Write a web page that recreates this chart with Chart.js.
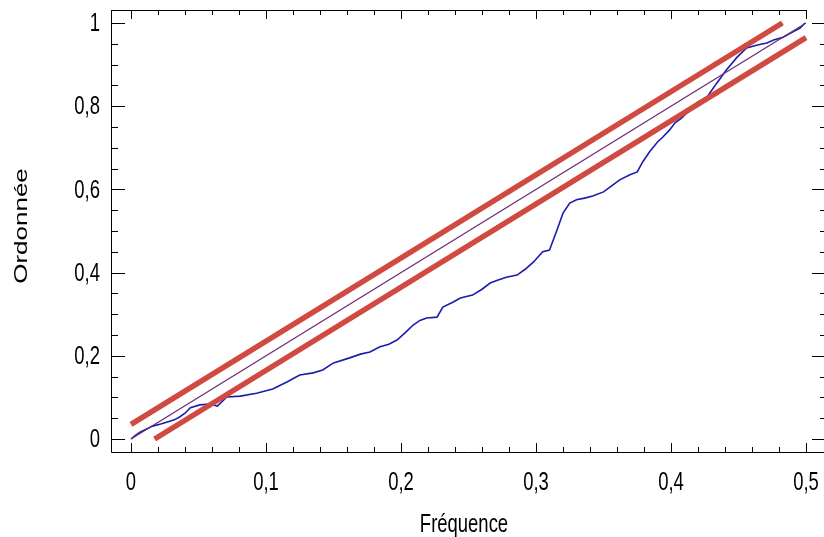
<!DOCTYPE html>
<html>
<head>
<meta charset="utf-8">
<script src="https://cdn.jsdelivr.net/npm/chart.js@4"></script>
<style>
  html, body { margin: 0; padding: 0; background: #fff; }
  #wrap { width: 824px; height: 537px; }
</style>
</head>
<body>
<div id="wrap"><canvas id="chart" width="824" height="537"></canvas></div>
<script>
// cumulative periodogram (blue)
const freq = [0, 0.003, 0.007, 0.012, 0.016, 0.022, 0.027, 0.032, 0.036, 0.040,
  0.044, 0.051, 0.0585, 0.064, 0.071, 0.081, 0.093, 0.105, 0.1155, 0.125,
  0.135, 0.142, 0.150, 0.162, 0.170, 0.177, 0.184, 0.191, 0.197, 0.203,
  0.209, 0.214, 0.219, 0.2267, 0.231, 0.238, 0.244, 0.253, 0.260, 0.266,
  0.272, 0.278, 0.286, 0.292, 0.298, 0.305, 0.310, 0.3155, 0.320, 0.325,
  0.330, 0.336, 0.342, 0.350, 0.355, 0.362, 0.3696, 0.375, 0.379, 0.384,
  0.390, 0.394, 0.399, 0.403, 0.408, 0.414, 0.419, 0.4267, 0.434, 0.441,
  0.449, 0.456, 0.464, 0.471, 0.476, 0.483, 0.490, 0.4956, 0.4993];
const ordo = [0, 0.008, 0.017, 0.025, 0.031, 0.036, 0.041, 0.046, 0.053, 0.062,
  0.075, 0.082, 0.084, 0.079, 0.101, 0.103, 0.110, 0.120, 0.137, 0.154,
  0.159, 0.166, 0.183, 0.195, 0.204, 0.209, 0.221, 0.228, 0.238, 0.255,
  0.274, 0.285, 0.291, 0.293, 0.317, 0.328, 0.339, 0.346, 0.360, 0.375,
  0.382, 0.389, 0.394, 0.408, 0.425, 0.450, 0.454, 0.502, 0.543, 0.567,
  0.575, 0.579, 0.584, 0.594, 0.606, 0.623, 0.635, 0.642, 0.666, 0.690,
  0.714, 0.726, 0.743, 0.760, 0.772, 0.791, 0.808, 0.822, 0.856, 0.887,
  0.918, 0.940, 0.947, 0.952, 0.959, 0.966, 0.978, 0.988, 1.0];

// diagonal and its two limit lines
const diagX = [0, 0.5];
const diagY = [0, 1];
const upperX = [0, 0.4825];
const upperY = [0.035, 1];
const lowerX = [0.0175, 0.5];
const lowerY = [0, 0.965];

const xTicks = [0, 0.1, 0.2, 0.3, 0.4, 0.5];
const xLabels = ['0', '0,1', '0,2', '0,3', '0,4', '0,5'];
const yTicks = [0, 0.2, 0.4, 0.6, 0.8, 1];
const yLabels = ['0', '0,2', '0,4', '0,6', '0,8', '1'];
const xTitle = 'Fréquence';
const yTitle = 'Ordonnée';

const pts = (xs, ys) => xs.map((x, i) => ({ x: x, y: ys[i] }));
const SQ = 0.71; // narrow text

function minorList(min, max, step) {
  const out = [];
  for (let v = Math.ceil(min / step) * step; v <= max + 1e-9; v += step) out.push(+v.toFixed(4));
  return out;
}

const framePlugin = {
  id: 'frame',
  afterDraw(chart) {
    const c = chart.ctx;
    const xs = chart.scales.x, ys = chart.scales.y;
    const a = chart.chartArea;
    const L = a.left, T = a.top, B = a.bottom, R = a.right;
    const isMajor = (v, list) => list.some(t => Math.abs(t - v) < 1e-6);
    c.save();
    c.strokeStyle = '#000';
    c.lineWidth = 1;
    c.beginPath();
    c.moveTo(L + 0.5, T); c.lineTo(L + 0.5, B + 0.5);
    c.lineTo(R, B + 0.5);
    c.moveTo(L, T + 0.5); c.lineTo(xs.getPixelForValue(0.5) + 1, T + 0.5);
    // x ticks (inward on top and bottom)
    minorList(xs.min, xs.max, 0.02).forEach(v => {
      const px = Math.round(xs.getPixelForValue(v)) + 0.5;
      const m = isMajor(v, xTicks);
      c.moveTo(px, T); c.lineTo(px, T + (m ? 9 : 5));
      c.moveTo(px, B); c.lineTo(px, B - (m ? 9 : 5));
    });
    // y ticks (inward on left, short marks at right edge)
    minorList(ys.min, ys.max, 0.05).forEach(v => {
      const py = Math.round(ys.getPixelForValue(v)) + 0.5;
      const m = isMajor(v, yTicks);
      c.moveTo(L, py); c.lineTo(L + (m ? 14 : 7), py);
      c.moveTo(R, py); c.lineTo(R - (m ? 12 : 4), py);
    });
    c.stroke();

    c.fillStyle = '#000';
    c.font = '26px "Liberation Sans", Arial, sans-serif';
    // y labels
    c.textAlign = 'right';
    c.textBaseline = 'middle';
    yTicks.forEach((v, i) => {
      const py = ys.getPixelForValue(v);
      c.save(); c.scale(SQ, 1);
      c.fillText(yLabels[i], 100 / SQ, py + 1);
      c.restore();
    });
    // x labels
    c.textAlign = 'center';
    c.textBaseline = 'alphabetic';
    xTicks.forEach((v, i) => {
      const px = xs.getPixelForValue(v);
      c.save(); c.scale(SQ, 1);
      c.fillText(xLabels[i], px / SQ, 490);
      c.restore();
    });
    // titles
    c.save(); c.scale(SQ, 1);
    c.fillText(xTitle, 464 / SQ, 532);
    c.restore();
    c.save();
    c.translate(27, 226);
    c.scale(SQ, 1);
    c.rotate(-Math.PI / 2);
    c.fillText(yTitle, 0, 0);
    c.restore();
    c.restore();
  }
};

const band = (xs, ys) => [
  { data: pts(xs, ys), showLine: true, borderColor: '#d04a42', borderWidth: 5.5, pointRadius: 0 },
  { data: pts(xs, ys), showLine: true, borderColor: '#f1b9b2', borderWidth: 3, pointRadius: 0 }
];

new Chart(document.getElementById('chart'), {
  type: 'scatter',
  data: {
    datasets: [
      ...band(upperX, upperY),
      ...band(lowerX, lowerY),
      { data: pts(diagX, diagY), showLine: true, borderColor: '#6a2d78', borderWidth: 1.3, pointRadius: 0 },
      { data: pts(freq, ordo), showLine: true, borderColor: '#1c1caa', borderWidth: 1.6, pointRadius: 0, tension: 0 }
    ]
  },
  options: {
    responsive: false,
    animation: false,
    events: [],
    layout: { padding: { left: 111, right: 0, top: 10, bottom: 85 } },
    plugins: { legend: { display: false }, tooltip: { enabled: false } },
    scales: {
      x: { type: 'linear', display: false, min: -20 / 1350, max: 693 / 1350 },
      y: { type: 'linear', display: false, min: -13 / 416, max: 1 + 13 / 416 }
    }
  },
  plugins: [framePlugin]
});
</script>
</body>
</html>
